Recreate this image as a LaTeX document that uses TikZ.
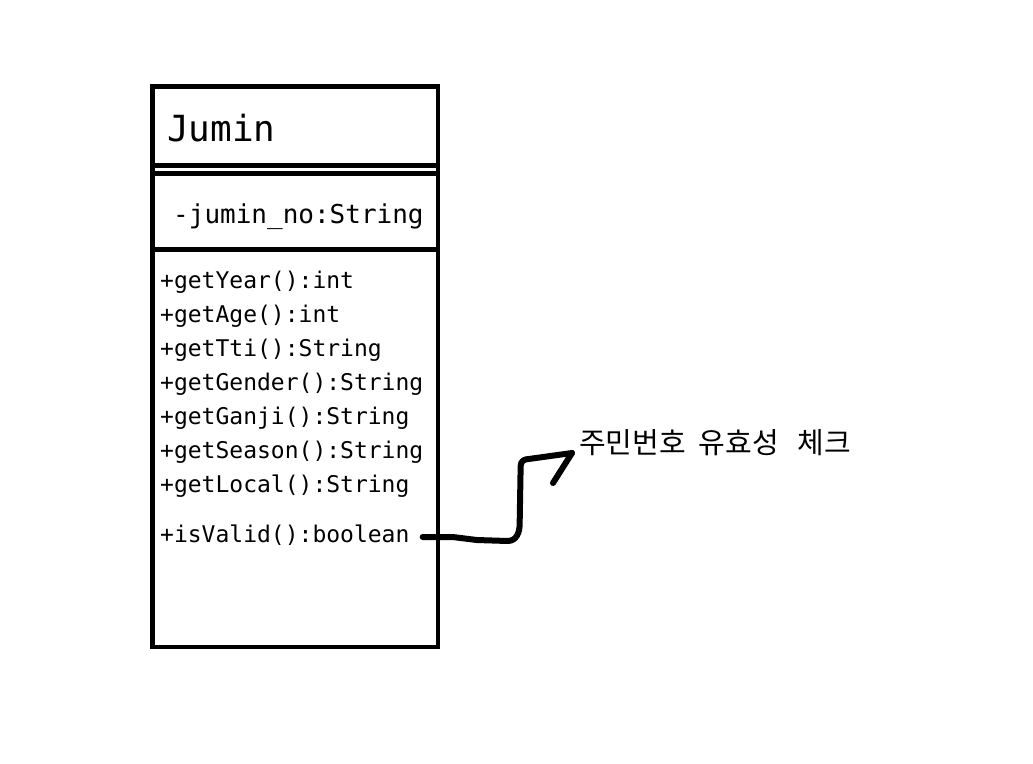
\documentclass[tikz,border=0pt]{standalone}
\usepackage{fontspec}
\setmonofont{DejaVu Sans Mono}
\newfontfamily\kofont{Noto Sans CJK KR}
\usetikzlibrary{calc}

\begin{document}
\begin{tikzpicture}[x=1pt, y=-1pt, box/.style={line width=4.6pt}, member/.style={anchor=base west, inner sep=0pt, font=\ttfamily\fontsize{23}{23}\selectfont}, hand/.style={line width=6pt, line join=round, line cap=round}]
\useasboundingbox (0,0) rectangle (1033,763);
% class box
\draw[box] (152.5,86.5) rectangle (438,647);
\draw[box] (152.5,165.5) -- (438,165.5);
\draw[box] (152.5,173.5) -- (438,173.5);
\draw[box] (152.5,249.5) -- (438,249.5);
\node[member, font=\ttfamily\fontsize{36}{36}\selectfont] (title) at (167,141) {Jumin};
\node[member, font=\ttfamily\fontsize{26}{26}\selectfont] (attr) at (173,223) {-jumin\_no:String};
% methods
\node[member] (year) at (160,288) {+getYear():int};
\node[member] (age) at (160,322) {+getAge():int};
\node[member] (tti) at (160,356) {+getTti():String};
\node[member] (gender) at (160,390) {+getGender():String};
\node[member] (ganji) at (160,424) {+getGanji():String};
\node[member] (season) at (160,458) {+getSeason():String};
\node[member] (local) at (160,492) {+getLocal():String};
\node[member] (valid) at (160,542) {+isValid():boolean};
% note
\node[anchor=base west, inner sep=0pt, font=\kofont\fontsize{29}{29}\selectfont] (note) at (579,453) {주민번호\hspace{13pt}유효성\hspace{19pt}체크};
\coordinate (tip) at ([shift={(-7,0)}]note.base west);
\draw[hand] ([shift={(13,-5)}]valid.base east) -- ++(30,0) -- ++(24,3) -- ++(31,1) .. controls +(9,0) and +(0,8) .. ++(12,-17) -- ++(1,-58) .. controls +(0,-5) and +(-4,0) .. ++(8,-7) -- (tip);
\draw[hand] (tip) -- ++(-19,30);
\end{tikzpicture}
\end{document}
